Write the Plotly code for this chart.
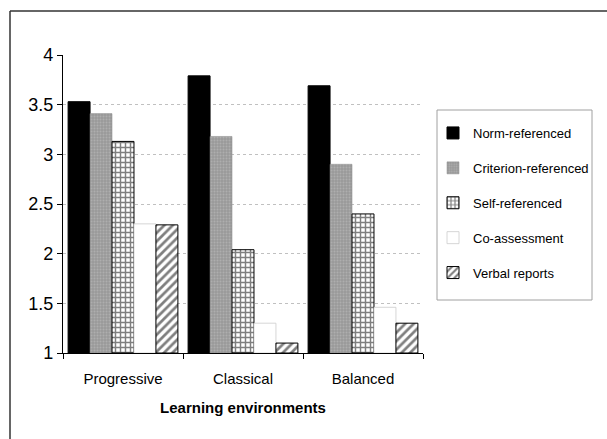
import plotly.graph_objects as go

categories = ["Progressive", "Classical", "Balanced"]
series_names = ["Norm-referenced", "Criterion-referenced", "Self-referenced",
                "Co-assessment", "Verbal reports"]
norm_referenced = [3.53, 3.79, 3.69]
criterion_referenced = [3.41, 3.18, 2.90]
self_referenced = [3.13, 2.04, 2.40]
co_assessment = [2.30, 1.30, 1.46]
verbal_reports = [2.29, 1.10, 1.30]
y_ticks = [1, 1.5, 2, 2.5, 3, 3.5, 4]
y_tick_labels = ["1", "1.5", "2", "2.5", "3", "3.5", "4"]

series_values = [norm_referenced, criterion_referenced, self_referenced,
                 co_assessment, verbal_reports]

styles = [
    dict(color="#000000", line=dict(color="#000000", width=1)),
    dict(color="#9e9e9e", line=dict(color="#8a8a8a", width=0.5),
         pattern=dict(shape=".", fgcolor="#c4c4c4", bgcolor="#999999", size=3, solidity=0.35)),
    dict(color="#ffffff", line=dict(color="#000000", width=1),
         pattern=dict(shape="+", fgcolor="#000000", bgcolor="#ffffff", size=5, solidity=0.5)),
    dict(color="#ffffff", line=dict(color="#cccccc", width=0.8)),
    dict(color="#ffffff", line=dict(color="#000000", width=1),
         pattern=dict(shape="/", fgcolor="#000000", bgcolor="#ffffff", size=6, solidity=0.45)),
]

fig = go.Figure()
for name, vals, st in zip(series_names, series_values, styles):
    fig.add_trace(go.Bar(
        x=categories, y=[v - 1 for v in vals], base=1, name=name,
        marker=st, legendgroup=name,
        hovertemplate="%{x}: %{customdata}<extra>" + name + "</extra>",
        customdata=vals,
    ))

font_family = "Liberation Sans, Arial, sans-serif"

# plot area: x 63..423 px, y 55..353 px
def px_x(p):
    return (p - 63) / 360.0

def px_y(p):
    return (353 - p) / 298.0

fig.update_layout(
    width=607, height=439,
    margin=dict(l=63, r=184, t=55, b=86),
    paper_bgcolor="white", plot_bgcolor="white",
    barmode="group", bargap=0.085, bargroupgap=0,
    font=dict(family=font_family, size=15, color="black"),
    showlegend=True,
    legend=dict(
        x=px_x(433), y=px_y(118), xanchor="left", yanchor="top",
        borderwidth=0,
        font=dict(family=font_family, size=13, color="black"),
        traceorder="grouped", tracegroupgap=15, itemwidth=30,
        bgcolor="rgba(0,0,0,0)",
    ),
    xaxis=dict(
        showline=True, linecolor="black", linewidth=1.2,
        ticks="outside", tickson="boundaries", ticklen=5, tickcolor="black",
        tickfont=dict(size=15), showgrid=False, ticklabelstandoff=12,
        title=dict(text="<b>Learning environments</b>", font=dict(size=15), standoff=16),
    ),
    yaxis=dict(
        range=[1, 4], tickvals=y_ticks, ticktext=y_tick_labels,
        showline=True, linecolor="black", linewidth=1.2,
        ticks="outside", ticklen=5, tickcolor="black",
        tickfont=dict(size=18),
        showgrid=True, gridcolor="#c0c0c0", griddash="dot", gridwidth=1,
        zeroline=False,
    ),
    shapes=[
        dict(type="line", xref="paper", yref="paper",
             x0=px_x(10), x1=px_x(10), y0=px_y(445), y1=px_y(11),
             line=dict(color="#333333", width=1.5)),
        dict(type="line", xref="paper", yref="paper",
             x0=px_x(10), x1=px_x(612), y0=px_y(11), y1=px_y(11),
             line=dict(color="#333333", width=1.5)),
        dict(type="rect", xref="paper", yref="paper",
             x0=px_x(437), x1=px_x(592), y0=px_y(300), y1=px_y(110),
             line=dict(color="#a0a0a0", width=1)),
    ],
)

fig.write_html("out.html", config={"displayModeBar": False},
               post_script="document.body.style.margin='0';")
